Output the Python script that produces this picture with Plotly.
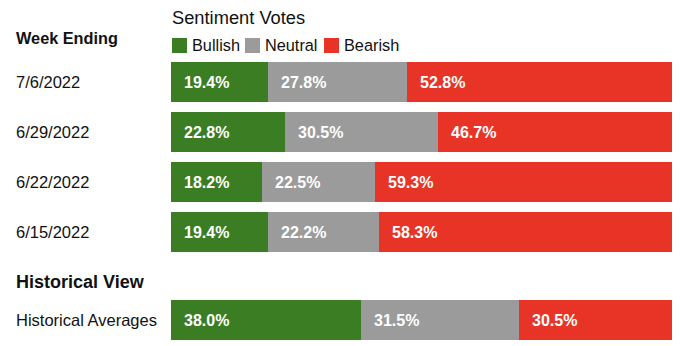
import plotly.graph_objects as go

# Sentiment survey data
weeks = ["7/6/2022", "6/29/2022", "6/22/2022", "6/15/2022"]
bullish = [19.4, 22.8, 18.2, 19.4]
neutral = [27.8, 30.5, 22.5, 22.2]
bearish = [52.8, 46.7, 59.3, 58.3]

hist_label = ["Historical Averages"]
hist_bullish = [38.0]
hist_neutral = [31.5]
hist_bearish = [30.5]

series_names = ["Bullish", "Neutral", "Bearish"]
colors = ["#3a7d23", "#9b9b9b", "#e73426"]

W, H = 680, 346
L, R, T, B = 171, 8, 57, 1
plot_w = W - L - R
plot_h = H - T - B
FONT = "Liberation Sans, Arial, sans-serif"


def px_x(px):
    return (px - L) / plot_w


def px_y(py):
    return (H - B - py) / plot_h


fig = go.Figure()

groups = [
    (weeks, [bullish, neutral, bearish], "x", "y"),
    (hist_label, [hist_bullish, hist_neutral, hist_bearish], "x2", "y2"),
]

annotations = []
for cats, values, xa, ya in groups:
    starts = [0.0] * len(cats)
    for name, vals, col in zip(series_names, values, colors):
        fig.add_trace(go.Bar(
            y=cats, x=vals, orientation="h", name=name,
            marker=dict(color=col, line=dict(width=0)),
            showlegend=False, xaxis=xa, yaxis=ya, hoverinfo="skip",
        ))
        for c, s, v in zip(cats, starts, vals):
            annotations.append(dict(
                x=s, y=c, xref=xa, yref=ya, text=f"{v:.1f}%",
                showarrow=False, xanchor="left", yanchor="middle", xshift=12,
                borderpad=0,
                font=dict(family=FONT, size=16, color="white", weight="bold"),
            ))
        starts = [s + v for s, v in zip(starts, vals)]
    # category labels on the left
    for c in cats:
        annotations.append(dict(
            x=px_x(15), y=c, xref="paper", yref=ya, text=c,
            showarrow=False, xanchor="left", yanchor="middle", borderpad=0,
            font=dict(family=FONT, size=16.5, color="#111111"),
        ))

# section headings
for txt, py, sz in [("<b>Week Ending</b>", 38, 16.3), ("<b>Historical View</b>", 281.5, 18)]:
    annotations.append(dict(x=px_x(15), y=px_y(py), xref="paper", yref="paper",
                            text=txt, showarrow=False, borderpad=0,
                            xanchor="left", yanchor="middle",
                            font=dict(family=FONT, size=sz, color="#111111")))
annotations.append(dict(x=px_x(171), y=px_y(17), xref="paper", yref="paper",
                        text="Sentiment Votes", showarrow=False, borderpad=0,
                        xanchor="left", yanchor="middle",
                        font=dict(family=FONT, size=18.3, color="#111111")))

# legend swatches and labels
shapes = []
legend_x = [172, 245, 324]
for name, col, lx in zip(series_names, colors, legend_x):
    shapes.append(dict(type="rect", xref="paper", yref="paper",
                       x0=px_x(lx), x1=px_x(lx + 15),
                       y0=px_y(53), y1=px_y(38),
                       fillcolor=col, line=dict(width=0)))
    annotations.append(dict(x=px_x(lx + 19), y=px_y(45.5), xref="paper", yref="paper",
                            text=name, showarrow=False, borderpad=0,
                            xanchor="left", yanchor="middle",
                            font=dict(family=FONT, size=16.3, color="#111111")))

top_bottom = px_y(257)
hist_top = px_y(295)

fig.update_layout(
    width=W, height=H,
    margin=dict(l=L, r=R, t=T, b=B, pad=0),
    barmode="stack", bargap=0.2,
    plot_bgcolor="white", paper_bgcolor="white",
    annotations=annotations, shapes=shapes,
    xaxis=dict(domain=[0, 1], range=[0, 100], visible=False, fixedrange=True),
    xaxis2=dict(domain=[0, 1], range=[0, 100], visible=False, anchor="y2", fixedrange=True),
    yaxis=dict(domain=[top_bottom, 1], range=[len(weeks) - 0.5, -0.5],
               type="category", visible=False, anchor="x"),
    yaxis2=dict(domain=[0, hist_top], range=[0.5, -0.5],
                type="category", visible=False, anchor="x2"),
    showlegend=False,
)

fig.write_html("out.html")
